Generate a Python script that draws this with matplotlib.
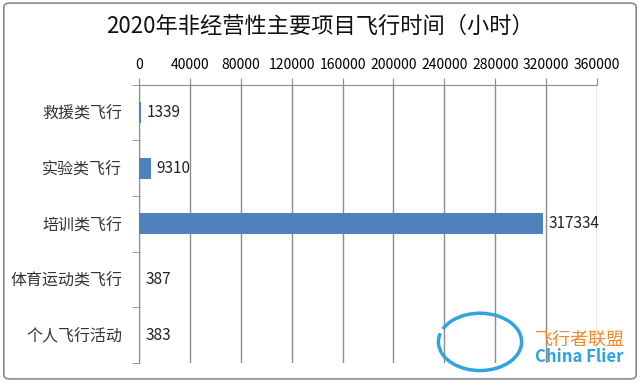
import matplotlib.pyplot as plt
from matplotlib.patches import FancyBboxPatch, Arc
import numpy as np

plt.rcParams['font.family'] = ['Noto Sans CJK SC', 'DejaVu Sans']

categories = ['救援类飞行', '实验类飞行', '培训类飞行', '体育运动类飞行', '个人飞行活动']
hours = [1339, 9310, 317334, 387, 383]
x_ticks = [0, 40000, 80000, 120000, 160000, 200000, 240000, 280000, 320000, 360000]

bar_color = '#4F81BD'
grid_color = '#8C8C8C'

fig = plt.figure(figsize=(6.4, 3.82), dpi=100)

# rounded outer frame like the Excel chart area
frame = FancyBboxPatch((0.006, 0.008), 0.988, 0.984, boxstyle='round,pad=0,rounding_size=0.01',
                       transform=fig.transFigure, facecolor='none', edgecolor='#8C8C8C',
                       linewidth=1.2, zorder=-1)
fig.patches.append(frame)

ax = fig.add_axes([0.217, 0.05, 0.716, 0.728])
ax.set_facecolor('none')

y = np.arange(len(categories))
ax.barh(y, hours, height=0.38, color=bar_color, zorder=3)

for yi, v in zip(y, hours):
    ax.text(v + 4500, yi, str(v), va='center', ha='left', fontsize=11, color='#222222', zorder=4)

ax.set_xlim(0, 360000)
ax.set_ylim(len(categories) - 0.5, -0.5)

ax.xaxis.tick_top()
ax.set_xticks(x_ticks)
ax.set_xticklabels([str(t) for t in x_ticks], fontsize=10)
ax.tick_params(axis='x', direction='out', length=5, color=grid_color, pad=4)
ax.xaxis.grid(True, color=grid_color, linewidth=1.0, zorder=0)

ax.set_yticks(y)
ax.set_yticklabels(categories, fontsize=11.5, color='#333333')
ax.set_yticks(np.arange(-0.5, len(categories), 1.0), minor=True)
ax.tick_params(axis='y', which='major', length=0, pad=12)
ax.tick_params(axis='y', which='minor', direction='out', length=5, color=grid_color)

for side in ['right', 'bottom']:
    ax.spines[side].set_visible(False)
ax.spines['top'].set_color(grid_color)
ax.spines['left'].set_color(grid_color)

fig.text(0.5, 0.93, '2020年非经营性主要项目飞行时间（小时）', ha='center', va='center',
         fontsize=16, color='#111111')

# watermark
wm = Arc((0.75, 0.105), 0.13, 0.15, theta1=-200, theta2=150, transform=fig.transFigure,
         edgecolor='#2FA4DE', linewidth=2.5, zorder=5)
fig.patches.append(wm)
fig.text(0.836, 0.11, '飞行者联盟', fontsize=13, color='#F08A2C', ha='left', va='center', zorder=6)
fig.text(0.836, 0.065, 'China Flier', fontsize=12, color='#2FA4DE', ha='left', va='center',
         fontweight='bold', zorder=6)

fig.savefig('out.png', dpi=100)
